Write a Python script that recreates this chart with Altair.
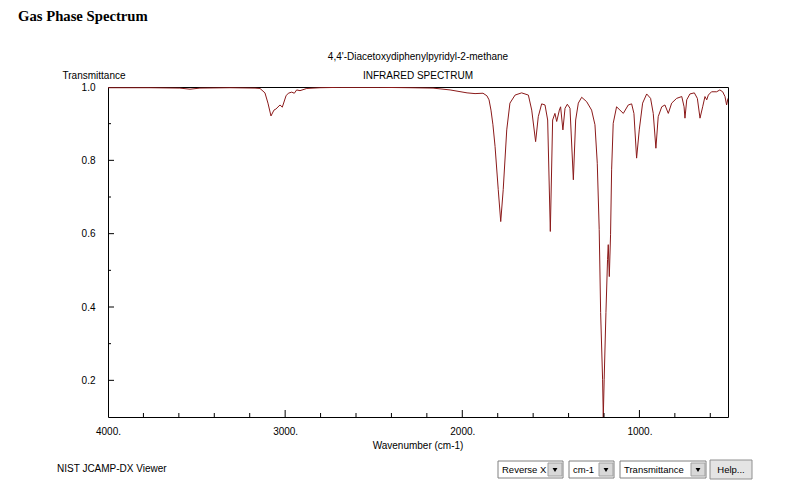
import altair as alt
import pandas as pd

# ---- data ----
wavenumber = [4000, 3763, 3594, 3537, 3481, 3311, 3170, 3142, 3114, 3097, 3080, 3063, 3052, 3029,
              3016, 2995, 2982, 2963, 2948, 2935, 2916, 2878, 2803, 2690, 2465, 2295, 2165, 2069,
              1973, 1928, 1883, 1861, 1849, 1838, 1827, 1815, 1797, 1783, 1769, 1749, 1731, 1702,
              1665, 1627, 1608, 1586, 1571, 1552, 1533, 1518, 1503, 1490, 1477, 1467, 1452, 1445,
              1432, 1420, 1407, 1392, 1373, 1360, 1345, 1326, 1298, 1270, 1251, 1238, 1227, 1219,
              1208, 1204, 1199, 1189, 1180, 1176, 1170, 1163, 1157, 1148, 1129, 1110, 1091, 1063,
              1044, 1031, 1016, 1001, 982, 959, 937, 922, 907, 894, 874, 856, 837, 818, 790, 761,
              748, 743, 733, 715, 690, 673, 658, 643, 630, 620, 611, 593, 564, 546, 530, 517, 508, 500]
transmittance = [0.998, 0.998, 0.997, 0.994, 0.997, 0.998, 0.997, 0.996, 0.984, 0.956, 0.921, 0.937,
                 0.940, 0.951, 0.945, 0.976, 0.983, 0.986, 0.983, 0.992, 0.990, 0.996, 0.998, 0.999,
                 0.999, 0.998, 0.997, 0.992, 0.984, 0.982, 0.983, 0.976, 0.965, 0.937, 0.897, 0.838,
                 0.720, 0.633, 0.720, 0.883, 0.956, 0.978, 0.984, 0.978, 0.937, 0.851, 0.919, 0.954,
                 0.951, 0.910, 0.606, 0.910, 0.928, 0.906, 0.937, 0.946, 0.883, 0.942, 0.953, 0.942,
                 0.747, 0.910, 0.956, 0.972, 0.960, 0.937, 0.897, 0.792, 0.611, 0.385, 0.203, 0.100,
                 0.203, 0.385, 0.529, 0.570, 0.483, 0.597, 0.774, 0.901, 0.946, 0.937, 0.928, 0.951,
                 0.954, 0.928, 0.806, 0.883, 0.956, 0.981, 0.969, 0.928, 0.833, 0.919, 0.946, 0.951,
                 0.928, 0.956, 0.969, 0.974, 0.946, 0.915, 0.965, 0.981, 0.984, 0.969, 0.915, 0.946,
                 0.974, 0.965, 0.978, 0.987, 0.987, 0.992, 0.987, 0.974, 0.951, 0.969]

x_label_values = [4000, 3000, 2000, 1000]
x_minor_ticks = [3800, 3600, 3400, 3200, 2800, 2600, 2400, 2200, 1800, 1600, 1400, 1200, 800, 600]
x_major_ticks = [3000, 2000, 1000]
y_label_values = [0.2, 0.4, 0.6, 0.8, 1.0]
y_major_ticks = [0.2, 0.4, 0.6, 0.8]
y_minor_ticks = [0.3, 0.5, 0.7, 0.9]

W, H = 620, 330
FONT = "Liberation Sans"
LINE = "#8B1A1A"

spec = pd.DataFrame({"wn": wavenumber, "T": transmittance})
one = pd.DataFrame({"k": [0]})

xscale = alt.Scale(domain=[500, 4000], reverse=True, nice=False, zero=False)
yscale = alt.Scale(domain=[0.1, 1.0], nice=False, zero=False)

xaxis = alt.Axis(values=x_label_values, labelExpr="format(datum.value, 'd') + '.'",
                 ticks=False, tickSize=0, domain=False, grid=False, title=None,
                 labelFlush=False, labelFont=FONT, labelFontSize=10, labelColor="black",
                 labelPadding=9, labelBaseline="top")
yaxis = alt.Axis(values=y_label_values, format=".1f", ticks=False, tickSize=0, domain=False,
                 grid=False, title=None, labelFont=FONT, labelFontSize=10, labelColor="black",
                 labelPadding=13)

line = alt.Chart(spec).mark_line(color=LINE, strokeWidth=1, clip=True).encode(
    x=alt.X("wn:Q", scale=xscale, axis=xaxis),
    y=alt.Y("T:Q", scale=yscale, axis=yaxis),
)

xminor = alt.Chart(pd.DataFrame({"wn": x_minor_ticks})).mark_rule(color="black").encode(
    x=alt.X("wn:Q", scale=xscale, axis=xaxis), y=alt.value(H), y2=alt.value(H - 4))
xmajor = alt.Chart(pd.DataFrame({"wn": x_major_ticks})).mark_rule(color="black").encode(
    x=alt.X("wn:Q", scale=xscale, axis=xaxis), y=alt.value(H), y2=alt.value(H - 7))
yminor = alt.Chart(pd.DataFrame({"T": y_minor_ticks})).mark_rule(color="black").encode(
    y=alt.Y("T:Q", scale=yscale, axis=yaxis), x=alt.value(0), x2=alt.value(3))
ymajor = alt.Chart(pd.DataFrame({"T": y_major_ticks})).mark_rule(color="black").encode(
    y=alt.Y("T:Q", scale=yscale, axis=yaxis), x=alt.value(0), x2=alt.value(6))


def txt(s, x, y, size=10, align="center", font=FONT, weight="normal", baseline="middle"):
    return alt.Chart(one).mark_text(text=s, align=align, baseline=baseline, font=font,
                                    fontSize=size, fontWeight=weight, color="black").encode(
        x=alt.value(x), y=alt.value(y))


def box(x1, x2, y1, y2, fill="white", stroke="#808080"):
    return alt.Chart(one).mark_rect(fill=fill, stroke=stroke, strokeWidth=1).encode(
        x=alt.value(x1), x2=alt.value(x2), y=alt.value(y1), y2=alt.value(y2))


def arrow(cx, cy):
    return alt.Chart(one).mark_point(shape="triangle-down", filled=True, color="black",
                                     size=24, opacity=1).encode(x=alt.value(cx), y=alt.value(cy))


deco = [
    txt("Gas Phase Spectrum", -90, -66, size=14.7, align="left", font="Liberation Serif",
        weight="bold", baseline="alphabetic"),
    txt("4,4'-Diacetoxydiphenylpyridyl-2-methane", 310, -30),
    txt("INFRARED SPECTRUM", 310, -11),
    txt("Transmittance", -14, -11),
    txt("Wavenumber (cm-1)", 310, 359),
    txt("NIST JCAMP-DX Viewer", -51, 382, align="left", size=10),
    # dropdown-like controls
    box(390, 455, 374, 391), box(440, 454, 376, 389, fill="#d8d8d8", stroke="#a0a0a0"),
    arrow(447, 383), txt("Reverse X", 394, 383, size=9.5, align="left"),
    box(461, 506, 374, 391), box(491, 505, 376, 389, fill="#d8d8d8", stroke="#a0a0a0"),
    arrow(498, 383), txt("cm-1", 465, 383, size=9.5, align="left"),
    box(512, 598, 374, 391), box(583, 597, 376, 389, fill="#d8d8d8", stroke="#a0a0a0"),
    arrow(590, 383), txt("Transmittance", 516, 383, size=9.5, align="left"),
    box(602, 644, 373, 392, fill="#e4e4e4", stroke="#909090"),
    txt("Help...", 623, 383, size=9.5),
]

chart = alt.layer(line, xminor, xmajor, yminor, ymajor, *deco).properties(
    width=W, height=H,
    autosize=alt.AutoSizeParams(type="none"),
    padding={"left": 108, "top": 87, "right": 72, "bottom": 81},
    background="white",
).configure_view(stroke="black", strokeWidth=1)

chart.save("out.html", embed_options={"renderer": "svg", "actions": False})
